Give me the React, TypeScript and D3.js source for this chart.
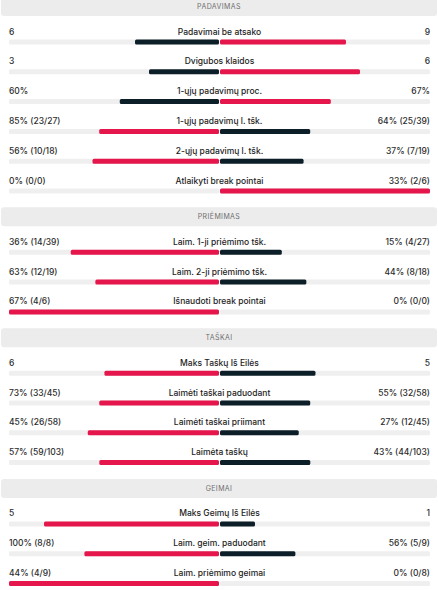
import React from "react";
import * as d3 from "d3";

const sectionTitles = ["PADAVIMAS", "PRIĖMIMAS", "TAŠKAI", "GEIMAI"];
const sectionOf = [0, 0, 0, 0, 0, 0, 1, 1, 1, 2, 2, 2, 2, 3, 3, 3];
const statLabels = [
  "Padavimai be atsako",
  "Dvigubos klaidos",
  "1-ųjų padavimų proc.",
  "1-ųjų padavimų l. tšk.",
  "2-ųjų padavimų l. tšk.",
  "Atlaikyti break pointai",
  "Laim. 1-ji priėmimo tšk.",
  "Laim. 2-ji priėmimo tšk.",
  "Išnaudoti break pointai",
  "Maks Taškų Iš Eilės",
  "Laimėti taškai paduodant",
  "Laimėti taškai priimant",
  "Laimėta taškų",
  "Maks Geimų Iš Eilės",
  "Laim. geim. paduodant",
  "Laim. priėmimo geimai",
];
const homeText = [
  "6", "3", "60%", "85% (23/27)", "56% (10/18)", "0% (0/0)",
  "36% (14/39)", "63% (12/19)", "67% (4/6)",
  "6", "73% (33/45)", "45% (26/58)", "57% (59/103)",
  "5", "100% (8/8)", "44% (4/9)",
];
const awayText = [
  "9", "6", "67%", "64% (25/39)", "37% (7/19)", "33% (2/6)",
  "15% (4/27)", "44% (8/18)", "0% (0/0)",
  "5", "55% (32/58)", "27% (12/45)", "43% (44/103)",
  "1", "56% (5/9)", "0% (0/8)",
];
const homeValues = [6, 3, 60, 85, 56, 0, 36, 63, 67, 6, 73, 45, 57, 5, 100, 44];
const awayValues = [9, 6, 67, 64, 37, 33, 15, 44, 0, 5, 55, 27, 43, 1, 56, 0];

const W = 438;
const H = 590;
const RED = "#e5164b";
const DARK = "#0c1f29";
const TRACK = "#efefef";
const HEAD = "#ececec";
const FONT = "Inter, 'Noto Sans', sans-serif";

export default function App() {
  const left = 9;
  const right = 430;
  const center = (left + right) / 2;
  const half = center - left - 0.5;
  const share = d3.scaleLinear().domain([0, 1]).range([0, half]);

  const headerH = 19;
  const rowStep = 29.8;
  const sectionBase = 31.5;

  // compute section tops
  const counts = sectionTitles.map((_, s) => sectionOf.filter((x) => x === s).length);
  const tops: number[] = [];
  let y = -3;
  counts.forEach((n) => {
    tops.push(y);
    y += sectionBase + rowStep * n;
  });

  const rows = statLabels.map((label, i) => {
    const s = sectionOf[i];
    const idx = sectionOf.slice(0, i).filter((x) => x === s).length;
    const top = tops[s];
    return { label, i, yLabel: top + 34.5 + idx * rowStep, yBar: top + 42.5 + idx * rowStep };
  });

  return (
    <svg width={W} height={H} style={{ position: "absolute", left: 0, top: 0, background: "#fff" }}>
      {sectionTitles.map((t, s) => (
        <g key={t}>
          <rect x={1} y={tops[s]} width={436} height={headerH} rx={3} fill={HEAD} />
          <text
            x={W / 2}
            y={tops[s] + headerH / 2 + 2.5}
            textAnchor="middle"
            fontFamily={FONT}
            fontSize={7}
            letterSpacing={0.4}
            fill="#6e6e6e"
          >
            {t}
          </text>
        </g>
      ))}
      {rows.map((r) => {
        const a = homeValues[r.i];
        const b = awayValues[r.i];
        const tot = a + b;
        const fa = tot > 0 ? a / tot : 0;
        const fb = tot > 0 ? b / tot : 0;
        const homeWin = a >= b;
        const wa = share(fa);
        const wb = share(fb);
        return (
          <g key={r.i}>
            <text x={left} y={r.yLabel + 3} fontFamily={FONT} fontSize={8.5} fontWeight={500} fill="#2b2b2b">
              {homeText[r.i]}
            </text>
            <text x={right} y={r.yLabel + 3} textAnchor="end" fontFamily={FONT} fontSize={8.5} fontWeight={500} fill="#2b2b2b">
              {awayText[r.i]}
            </text>
            <text x={center} y={r.yLabel + 3} textAnchor="middle" fontFamily={FONT} fontSize={8.5} fontWeight={500} fill="#1d1d1d">
              {r.label}
            </text>
            <rect x={left} y={r.yBar} width={half} height={5} rx={1.5} fill={TRACK} />
            <rect x={center + 0.5} y={r.yBar} width={half} height={5} rx={1.5} fill={TRACK} />
            {wa > 0 && (
              <rect x={center - 0.5 - wa} y={r.yBar} width={wa} height={5} rx={1.5} fill={homeWin ? RED : DARK} />
            )}
            {wb > 0 && (
              <rect x={center + 0.5} y={r.yBar} width={wb} height={5} rx={1.5} fill={homeWin ? DARK : RED} />
            )}
          </g>
        );
      })}
    </svg>
  );
}
